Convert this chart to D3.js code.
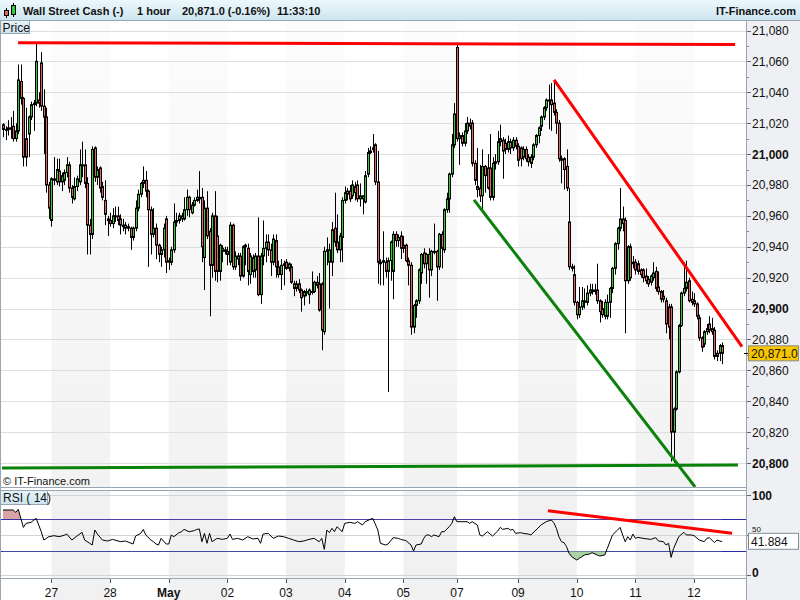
<!DOCTYPE html>
<html><head><meta charset="utf-8">
<script src="https://cdn.jsdelivr.net/npm/d3@7"></script>
<style>
body{margin:0;background:#fff;}
svg{display:block;font-family:"Liberation Sans",Arial,sans-serif;}
</style></head><body>
<svg id="c" width="800" height="600"></svg>
<script>
// ---------------- DATA ----------------
const opens=[21019,21016,21016,21017,21018,21010,21015,21047,21036,21010,21013,21024,21032,21033,21035,21059,21031,21024,20980,
20957,20984,20982,20989,20982,20983,20988,20993,20978,20971,20979,20982,20993,20993,20981,20954,20948,21004,20985,20991,20979,20970,20958,
20957,20955,20960,20960,20958,20954,20954,20953,20952,20946,20952,20965,20974,20981,20983,20976,20964,20948,20952,20941,20935,20938,20958,
20930,20930,20938,20956,20957,20960,20958,20964,20972,20962,20967,20970,20972,20972,20933,20965,20950,20928,20960,20947,20924,20939,20937,
20937,20930,20954,20927,20932,20934,20921,20940,20939,20922,20933,20925,20934,20909,20934,20939,20943,20938,20930,20944,20927,20922,20928,
20930,20926,20927,20916,20913,20916,20912,20908,20911,20909,20911,20911,20917,20916,20916,20885,20937,20930,20930,20952,20943,20938,20946,
20970,20974,20976,20973,20979,20980,20971,20971,20969,20987,21001,21003,21006,20982,20930,20930,20930,20924,20931,20924,20948,20944,20947,
20941,20941,20931,20928,20888,20902,20905,20923,20936,20929,20935,20925,20937,20937,20927,20948,20938,20964,20971,20987,21006,
21069,21010,21012,21007,21015,21020,21020,20994,20979,20978,20973,20992,20991,20991,20972,20994,20995,21008,21009,21007,21003,21008,21004,21009,
21005,21004,20998,21003,20998,20994,20998,21006,21012,21018,21024,21030,21035,21035,21033,21027,21020,20997,20997,20992,20956,20927,20922,
20904,20896,20901,20905,20904,20910,20912,20911,20912,20905,20900,20895,20895,20904,20913,20926,20942,20952,20958,20957,20918,20940,20930,
20930,20929,20925,20925,20921,20919,20917,20920,20924,20914,20911,20908,20905,20901,20901,20820,20835,20859,20889,20910,20913,20918,20906,
20905,20903,20894,20881,20877,20885,20890,20887,20886,20869,20871,20876];
const highs=[21020,21018,21022,21024,21028,21020,21058,21058,21037,21030,21025,21034,21035,21072,21040,21066,21042,21030,20982,
20985,20998,20997,20997,20988,20990,20998,20995,20980,20985,20986,21003,21008,21003,20985,20958,21005,21005,20992,20992,20982,20983,20960,
20962,20965,20966,20966,20961,20958,20956,20955,20953,20953,20970,20977,20982,20992,20989,20977,20966,20965,20955,20942,20940,20955,20960,
20933,20940,20968,20962,20962,20962,20972,20977,20973,20969,20972,20977,20989,20978,20970,20976,20952,20962,20976,20960,20942,20941,20940,
20940,20956,20955,20937,20936,20936,20941,20942,20942,20936,20935,20936,20959,20936,20957,20948,20948,20942,20948,20948,20931,20932,20931,
20932,20930,20929,20918,20918,20919,20913,20912,20913,20913,20924,20918,20921,20923,20917,20940,20946,20942,20956,20975,20961,20949,20972,
20979,20978,20980,20983,20982,20983,20981,20973,20989,21004,21005,21013,21007,21002,20932,20950,20933,20933,20944,20950,20950,20948,20950,
20947,20942,20933,20930,20903,20906,20926,20936,20939,20936,20939,20938,20955,20938,20949,20950,20965,20975,20988,21013,21033,
21071,21014,21014,21020,21024,21023,21022,20996,21004,20993,21003,20993,21000,21013,20998,21000,21015,21019,21011,21010,21012,21010,21011,21011,
21007,21005,21005,21005,21000,21000,21007,21013,21018,21025,21031,21036,21045,21046,21048,21029,21022,20999,20998,21003,20978,20929,20928,
20905,20914,20914,20913,20915,20916,20916,20916,20929,20906,20905,20906,20909,20914,20927,20943,20953,20978,20966,20959,20941,20942,20934,
20932,20931,20926,20926,20926,20921,20922,20930,20927,20924,20912,20912,20907,20903,20903,20836,20860,20890,20911,20930,20931,20920,20911,
20910,20904,20896,20882,20886,20890,20895,20894,20888,20873,20877,20878];
const lows=[21011,21009,21012,21010,21008,21008,21013,21032,20992,20992,20998,21022,21015,21031,21030,21028,21000,20975,20958,
20953,20980,20980,20979,20976,20980,20985,20975,20968,20970,20976,20980,20985,20978,20935,20935,20945,20982,20980,20975,20970,20954,20947,
20953,20952,20956,20954,20948,20950,20948,20950,20938,20944,20950,20963,20972,20978,20972,20927,20935,20946,20932,20930,20927,20933,20923,
20925,20928,20936,20953,20955,20956,20957,20960,20959,20961,20966,20969,20968,20930,20912,20945,20895,20920,20918,20917,20918,20930,20935,
20928,20928,20925,20925,20928,20918,20920,20928,20915,20916,20920,20920,20908,20903,20928,20930,20934,20921,20928,20920,20920,20912,20915,
20925,20924,20916,20908,20911,20910,20898,20902,20908,20903,20909,20910,20913,20898,20873,20883,20928,20900,20921,20940,20936,20930,20930,
20968,20970,20969,20971,20970,20969,20966,20961,20968,20985,21000,21001,20980,20916,20915,20915,20920,20846,20918,20906,20940,20940,20932,
20936,20930,20915,20883,20884,20894,20903,20916,20926,20916,20907,20921,20935,20905,20925,20926,20936,20962,20962,20985,21004,
21008,20993,21005,21005,21013,21016,20992,20980,20972,20969,20964,20975,20977,20970,20970,20990,20993,21005,20984,21000,21001,21000,21002,21003,
20992,20992,20996,20995,20992,20991,20996,21004,21007,21015,21022,21028,21016,21015,21025,21013,20995,20981,20977,20976,20925,20924,20902,
20893,20894,20899,20900,20902,20908,20909,20909,20903,20891,20894,20893,20893,20894,20910,20922,20938,20950,20950,20884,20916,20918,20926,
20922,20922,20920,20917,20916,20914,20915,20918,20911,20909,20904,20904,20884,20880,20801,20800,20834,20858,20888,20908,20911,20904,20902,
20901,20893,20879,20872,20875,20883,20884,20883,20867,20866,20866,20864];
const closes=[21016,21016,21017,21016,21010,21015,21048,21036,20998,20998,21024,21032,21033,21060,21033,21031,21024,20980,20965,
20984,20983,20990,20982,20986,20988,20993,20978,20972,20979,20984,20993,20993,20981,20954,20948,21003,20985,20990,20978,20972,20961,20957,
20955,20960,20960,20957,20954,20953,20952,20952,20946,20952,20965,20974,20981,20983,20976,20964,20948,20952,20941,20935,20938,20952,20930,
20931,20938,20956,20957,20960,20958,20964,20972,20964,20967,20970,20972,20971,20940,20965,20947,20928,20960,20924,20924,20941,20937,20938,
20935,20954,20927,20934,20934,20921,20940,20941,20924,20934,20924,20934,20909,20934,20939,20943,20938,20930,20945,20927,20922,20928,20929,
20926,20929,20917,20913,20916,20912,20907,20911,20910,20912,20911,20917,20915,20899,20886,20937,20938,20938,20951,20943,20938,20947,20970,
20975,20976,20971,20980,20975,20971,20973,20973,20986,21001,21002,21004,20982,20930,20929,20931,20924,20931,20943,20948,20944,20946,20939,
20939,20931,20928,20888,20902,20905,20925,20935,20929,20935,20925,20937,20937,20927,20948,20939,20964,20971,20987,21006,21026,
21010,21012,21007,21015,21020,21018,20994,20983,20977,20973,20992,20986,20978,20972,20994,20995,21008,21010,21002,21003,21008,21004,21009,21005,
20996,20997,21003,20997,20995,20998,21006,21012,21017,21024,21030,21035,21035,21032,21027,21020,20997,20996,20990,20978,20927,20926,20904,
20896,20901,20905,20904,20910,20912,20911,20912,20905,20898,20896,20904,20904,20913,20926,20942,20952,20958,20955,20918,20940,20920,20929,
20925,20924,20922,20920,20918,20916,20921,20923,20913,20911,20906,20906,20890,20888,20820,20835,20859,20889,20910,20913,20917,20905,20904,
20903,20895,20881,20875,20885,20887,20886,20885,20869,20871,20876,20871];

// day axis
const dayLabels=["27","28","May","02","03","04","05","07","09","10","11","12"];
const dayStart=[19,42,65,88,111,134,157,178,202,225,248,271];
const boldDays=["May"];

// price axis
const priceTicks=[20800,20820,20840,20860,20880,20900,20920,20940,20960,20980,21000,21020,21040,21060,21080];
const boldPrices=[20800,20900,21000];
const lastPrice=20871.0;

// RSI (14) read at candle indices
const rsiIdx=[0,2,4,5,6,8,9,11,13,14,15,16,17,18,20,22,24,25,27,29,31,32,34,35,36,37,39,41,43,46,48,51,52,54,55,56,58,59,60,61,62,64,
65,66,67,69,70,71,73,75,76,77,78,79,80,81,82,84,86,88,89,90,92,94,96,98,100,101,102,104,106,108,110,112,114,116,118,120,122,124,125,126,127,
128,129,130,131,133,134,136,138,139,141,142,144,145,147,148,150,151,153,155,156,158,160,161,162,164,165,166,167,168,169,171,172,173,175,176,
177,178,180,182,183,184,186,187,188,190,191,192,194,195,196,198,199,200,201,203,204,206,207,209,211,213,215,216,217,218,219,220,221,222,223,
225,226,228,230,231,233,234,236,237,238,239,241,242,243,244,245,246,247,248,249,251,254,256,257,259,260,261,262,263,265,267,268,270,271,273,
275,276,277,278,279,280,282];
const rsiVal=[81.6,81.6,81.6,78.7,82.4,59.9,64.9,66.2,71.2,62.9,54.5,44.1,46.2,48.3,49.5,48.3,50,51.6,44.1,49.1,53.7,44.1,40,37.9,56.6,51.6,44.1,42.9,44.9,42,42.9,39.1,49.1,52.4,57.4,50.4,44.1,42,39.1,37.9,46.2,39.1,
39.1,50.4,48.3,53.3,54.5,57.4,54.5,55.8,57.4,57.9,42,52.4,40,52.4,42,46.2,44.9,46.2,51.6,44.9,46.2,44.1,48.3,45.4,46.2,40,51.6,52.4,46.2,49.1,48.3,46.2,44.1,42,42.9,44.9,46.2,42,46.2,32.4,56.6,
53.3,58.7,54.5,60.8,54.5,64.9,66.2,64.9,67,62.9,67,69.9,71.2,56.6,40,37.9,39.1,47,46.2,44.9,43.3,37.9,30.4,37.9,39.1,46.2,50.4,50.4,48.3,50.4,48.3,54.5,54.5,60.8,64.9,
73.3,67,67,67,64.9,67,62.9,50.4,49.1,54.5,51.6,49.1,55.4,59.9,57.4,58.7,56.6,57.4,52.4,53.3,52.4,51.6,50.4,56.6,62.9,67,69.1,65.8,58.7,48.3,42,40.8,35.8,27.4,23.3,
19.1,21.2,25.4,26.6,28.3,25.4,24.1,25.4,33.7,42,50.4,56.6,59.9,50.4,42,48.3,44.1,51.6,46.2,47.4,46.2,44.9,47,42.9,42,37.9,40,22.4,33.7,48.3,53.7,50.4,50.4,49.5,44.1,
42,46.2,47,44.1,40.8,44.1,41.884];
const rsiLevels=[30,50,70];

// drawn trend lines: [panel, colour, startIndex, startValue, endIndex, endValue]
const trendLines=[
 ["price","#ff0000",5.9,21072,287.1,21071],
 ["price","#ff0000",216.1,21048,289.8,20875.4],
 ["price","#0a820a",184.7,20970.3,271.4,20784.5],
 ["price","#0a820a",-0.4,20796.8,288.2,20798.7],
 ["rsi","#ff0000",213.7,80.7,285.9,52.5]
];

const headerTexts=["Wall Street Cash (-)","1 hour","20,871.0 (-0.16%)","11:33:10"];
const siteName="IT-Finance.com";

// ---------------- DRAW ----------------
const svg=d3.select("#c");
const W=800,H=600,plotR=746;
const pTop=20,pBot=487,rTop=490,rBot=578;
const x=d3.scaleLinear().domain([0,282]).range([3,722.1]);
const y=d3.scaleLinear().domain([20800,21080]).range([463,30.5]);
const yr=d3.scaleLinear().domain([0,100]).range([575.3,495.3]);
const lastRsi=rsiVal[rsiVal.length-1];

const defs=svg.append("defs");
const hg=defs.append("linearGradient").attr("id","hdr").attr("x1",0).attr("y1",0).attr("x2",0).attr("y2",1);
hg.append("stop").attr("offset","0%").attr("stop-color","#eef8fc");
hg.append("stop").attr("offset","100%").attr("stop-color","#cde5f0");
const lg=defs.append("linearGradient").attr("id","lbl").attr("x1",0).attr("y1",0).attr("x2",0).attr("y2",1);
lg.append("stop").attr("offset","0%").attr("stop-color","#e8f4f9");
lg.append("stop").attr("offset","100%").attr("stop-color","#cbe3ee");
const bg=defs.append("linearGradient").attr("id","band").attr("x1",0).attr("y1",0).attr("x2",0).attr("y2",1);
bg.append("stop").attr("offset","0%").attr("stop-color","#fcfcfc");
bg.append("stop").attr("offset","100%").attr("stop-color","#f2f2f2");
defs.append("clipPath").attr("id","cp").append("rect").attr("x",1).attr("y",pTop+1).attr("width",plotR-1).attr("height",pBot-pTop-1);
defs.append("clipPath").attr("id","cr").append("rect").attr("x",1).attr("y",rTop+1).attr("width",plotR-1).attr("height",rBot-rTop-1);
defs.append("clipPath").attr("id","above70").append("rect").attr("x",0).attr("y",rTop).attr("width",plotR).attr("height",yr(70)-rTop);
defs.append("clipPath").attr("id","below30").append("rect").attr("x",0).attr("y",yr(30)).attr("width",plotR).attr("height",rBot-yr(30));

svg.append("rect").attr("width",W).attr("height",H).attr("fill","#fff");

// day bands
for(let k=0;k+1<dayStart.length;k+=2){
  const x0=x(dayStart[k]), x1=x(dayStart[k+1]);
  svg.append("rect").attr("x",x0).attr("y",pTop).attr("width",x1-x0).attr("height",pBot-pTop).attr("fill","url(#band)");
  svg.append("rect").attr("x",x0).attr("y",rTop).attr("width",x1-x0).attr("height",H-rTop).attr("fill","#f1f1f1");
}

// price gridlines
svg.append("g").selectAll("line").data(priceTicks).join("line")
  .attr("x1",1).attr("x2",plotR).attr("y1",d=>Math.round(y(d))+0.5).attr("y2",d=>Math.round(y(d))+0.5)
  .attr("stroke","#dedede").attr("stroke-width",1);

// candles
const cg=svg.append("g").attr("clip-path","url(#cp)");
const idx=d3.range(closes.length);
cg.selectAll("line.w").data(idx).join("line").attr("class","w")
  .attr("x1",i=>Math.round(x(i))+0.5).attr("x2",i=>Math.round(x(i))+0.5)
  .attr("y1",i=>y(highs[i])).attr("y2",i=>y(lows[i]))
  .attr("stroke","#000").attr("stroke-width",1);
cg.selectAll("rect.b").data(idx).join("rect").attr("class","b")
  .attr("x",i=>Math.round(x(i))-0.5).attr("width",2)
  .attr("y",i=>y(Math.max(opens[i],closes[i])))
  .attr("height",i=>Math.max(1,Math.abs(y(opens[i])-y(closes[i]))))
  .attr("fill",i=>closes[i]>=opens[i]?"#33cc33":"#e06666")
  .attr("stroke","#000").attr("stroke-width",1);

// RSI panel
svg.append("g").selectAll("line").data([0,50,100]).join("line")
  .attr("x1",1).attr("x2",plotR).attr("y1",d=>Math.round(yr(d))+0.5).attr("y2",d=>Math.round(yr(d))+0.5)
  .attr("stroke","#d4d4d4");
svg.append("g").selectAll("line").data([30,70]).join("line")
  .attr("x1",1).attr("x2",plotR).attr("y1",d=>Math.round(yr(d))+0.5).attr("y2",d=>Math.round(yr(d))+0.5)
  .attr("stroke","#2b2ba8");
const rpts=rsiIdx.map((d,i)=>[d,rsiVal[i]]);
const rg=svg.append("g").attr("clip-path","url(#cr)");
rg.append("path").datum(rpts).attr("clip-path","url(#above70)")
  .attr("d",d3.area().x(d=>x(d[0])).y0(yr(70)).y1(d=>yr(d[1])))
  .attr("fill","#d7a3a3");
rg.append("path").datum(rpts).attr("clip-path","url(#below30)")
  .attr("d",d3.area().x(d=>x(d[0])).y0(yr(30)).y1(d=>yr(d[1])))
  .attr("fill","#a9d3a2");
rg.append("path").datum(rpts).attr("d",d3.line().x(d=>x(d[0])).y(d=>yr(d[1])))
  .attr("fill","none").attr("stroke","#000").attr("stroke-width",1);

// trend lines
trendLines.forEach(t=>{
  const ys=t[0]==="price"?y:yr;
  svg.append("line").attr("clip-path",t[0]==="price"?"url(#cp)":"url(#cr)")
    .attr("x1",x(t[2])).attr("y1",ys(t[3])).attr("x2",x(t[4])).attr("y2",ys(t[5]))
    .attr("stroke",t[1]).attr("stroke-width",3);
});

// frames
const fr="#98a6b3";
svg.append("line").attr("x1",0).attr("x2",plotR).attr("y1",pBot+0.5).attr("y2",pBot+0.5).attr("stroke",fr);
svg.append("line").attr("x1",0).attr("x2",plotR).attr("y1",rTop+0.5).attr("y2",rTop+0.5).attr("stroke",fr);
svg.append("line").attr("x1",0).attr("x2",plotR).attr("y1",rBot+0.5).attr("y2",rBot+0.5).attr("stroke",fr);
svg.append("line").attr("x1",0.5).attr("x2",0.5).attr("y1",pTop).attr("y2",H).attr("stroke",fr);

// right axis column
svg.append("rect").attr("x",plotR).attr("y",pTop).attr("width",W-plotR).attr("height",H-pTop).attr("fill","#eef0f3");
svg.append("line").attr("x1",plotR+0.5).attr("x2",plotR+0.5).attr("y1",pTop).attr("y2",H).attr("stroke",fr);

// price axis ticks & labels
const ax=svg.append("g");
ax.selectAll("line.maj").data(priceTicks).join("line").attr("class","maj")
  .attr("x1",plotR+1).attr("x2",plotR+5).attr("y1",d=>Math.round(y(d))+0.5).attr("y2",d=>Math.round(y(d))+0.5).attr("stroke","#666");
ax.selectAll("line.min").data(priceTicks.slice(0,-1)).join("line").attr("class","min")
  .attr("x1",plotR+1).attr("x2",plotR+3).attr("y1",d=>Math.round(y(d+10))+0.5).attr("y2",d=>Math.round(y(d+10))+0.5).attr("stroke","#888");
ax.selectAll("text").data(priceTicks).join("text")
  .attr("x",plotR+6).attr("y",d=>y(d)+4.5)
  .attr("font-size",12).attr("font-weight",d=>boldPrices.includes(d)?"bold":"normal")
  .attr("fill","#111").text(d=>d3.format(",")(d));
// last price box
svg.append("line").attr("x1",plotR-2).attr("x2",plotR+2).attr("y1",Math.round(y(lastPrice))+0.5).attr("y2",Math.round(y(lastPrice))+0.5).attr("stroke","#000");
svg.append("rect").attr("x",plotR+2.5).attr("y",y(lastPrice)-7.5).attr("width",50).attr("height",15)
  .attr("fill","#f7c600").attr("stroke","#8a8a8a");
svg.append("text").attr("x",plotR+5).attr("y",y(lastPrice)+4.5).attr("font-size",12).attr("fill","#111").text(d3.format(",.1f")(lastPrice));

// RSI axis
svg.selectAll("text.ra").data([0,100]).join("text").attr("class","ra")
  .attr("x",plotR+6).attr("y",d=>yr(d)+(d===0?2:4.5)).attr("font-size",12)
  .attr("font-weight","bold").attr("fill","#111").text(d=>d);
svg.selectAll("line.rt").data([0,50,100]).join("line").attr("class","rt")
  .attr("x1",plotR+1).attr("x2",plotR+5).attr("y1",d=>Math.round(yr(d))+0.5).attr("y2",d=>Math.round(yr(d))+0.5).attr("stroke","#666");
// value box for the latest RSI; the "50" label sits just above it, small, so both stay readable
const boxTop=yr(lastRsi)-8.5;
svg.append("text").attr("x",plotR+6).attr("y",boxTop-1).attr("font-size",8).attr("fill","#111").text(50);
svg.append("rect").attr("x",plotR+2.5).attr("y",boxTop).attr("width",50).attr("height",16)
  .attr("fill","#fff").attr("stroke","#7d8c99");
svg.append("text").attr("x",plotR+5).attr("y",yr(lastRsi)+4).attr("font-size",12).attr("fill","#111").text(d3.format(".3f")(lastRsi));

// bottom day axis
svg.selectAll("line.dt").data(dayStart).join("line").attr("class","dt")
  .attr("x1",d=>Math.round(x(d))+0.5).attr("x2",d=>Math.round(x(d))+0.5).attr("y1",rBot+1).attr("y2",rBot+5).attr("stroke","#555");
svg.selectAll("text.dl").data(dayStart).join("text").attr("class","dl")
  .attr("x",d=>x(d)).attr("y",596.5).attr("text-anchor","middle").attr("font-size",12)
  .attr("font-weight",(d,i)=>boldDays.includes(dayLabels[i])?"bold":"normal")
  .attr("fill","#111").text((d,i)=>dayLabels[i]);

// panel labels
svg.append("text").attr("x",3).attr("y",485).attr("font-size",11).attr("fill","#111").text("\u00A9 "+siteName);
svg.append("rect").attr("x",0.5).attr("y",rTop+0.5).attr("width",47).attr("height",14).attr("fill","url(#lbl)").attr("stroke",fr);
svg.append("text").attr("x",3).attr("y",rTop+12).attr("font-size",12).attr("fill","#111").text("RSI ( 14)");
svg.append("rect").attr("x",0.5).attr("y",pTop+0.5).attr("width",29).attr("height",13).attr("fill","url(#lbl)").attr("stroke",fr);
svg.append("text").attr("x",2.5).attr("y",pTop+11.5).attr("font-size",12).attr("fill","#111").text("Price");

// header
svg.append("rect").attr("x",0).attr("y",0).attr("width",W).attr("height",pTop).attr("fill","url(#hdr)");
svg.append("line").attr("x1",0).attr("x2",W).attr("y1",pTop+0.5).attr("y2",pTop+0.5).attr("stroke",fr);
// icon
svg.append("line").attr("x1",6.5).attr("x2",6.5).attr("y1",8).attr("y2",18).attr("stroke","#000");
svg.append("rect").attr("x",4.5).attr("y",10.5).attr("width",4).attr("height",5).attr("fill","#e06666").attr("stroke","#000");
svg.append("line").attr("x1",13.5).attr("x2",13.5).attr("y1",3).attr("y2",17).attr("stroke","#000");
svg.append("rect").attr("x",11.5).attr("y",5.5).attr("width",4).attr("height",9).attr("fill","#33cc33").attr("stroke","#000");
const hx=[23,137,182,277];
headerTexts.forEach((t,i)=>svg.append("text").attr("x",hx[i]).attr("y",15).attr("font-size",11).attr("font-weight","bold").attr("fill","#111").text(t));
svg.append("text").attr("x",796).attr("y",15).attr("text-anchor","end").attr("font-size",11).attr("font-weight","bold").attr("fill","#111").text(siteName);
</script>
</body></html>
